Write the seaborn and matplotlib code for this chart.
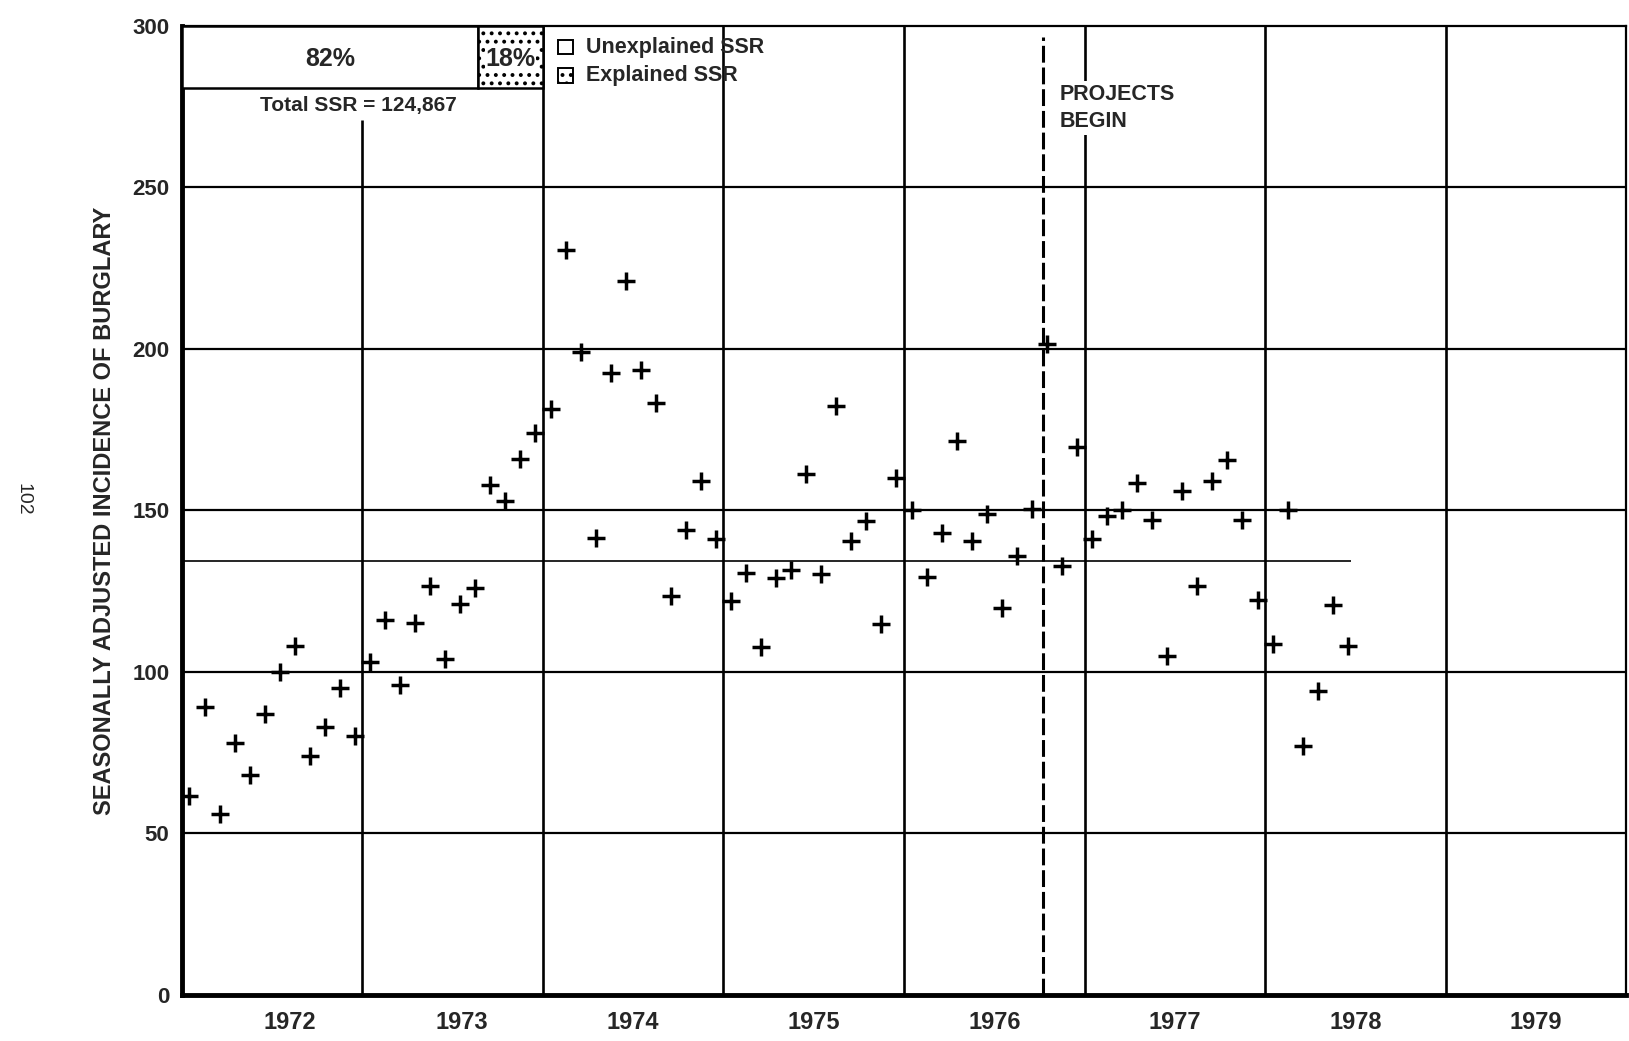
import numpy as np
import pandas as pd
import matplotlib
matplotlib.use("Agg")
import matplotlib.pyplot as plt
from matplotlib.patches import Rectangle
import seaborn as sns

# ---------------- data ----------------
YEARS = [1972, 1973, 1974, 1975, 1976, 1977, 1978]
BURG_1972 = [61.5, 89, 56, 78, 68, 87, 100, 108, 74, 83, 95, 80]
BURG_1973 = [103, 116, 96, 115, 126.5, 104, 121, 126, 158, 153, 166, 174]
BURG_1974 = [181.5, 230.5, 199, 141.5, 192.6, 221, 193.6, 183.3, 123.5, 144, 159, 141]
BURG_1975 = [122, 130.5, 107.8, 129, 131.5, 161.3, 130.4, 182.2, 140.5, 146.6, 114.8, 160]
BURG_1976 = [150, 129.5, 143, 171.4, 140.5, 149, 119.7, 136, 150.5, 201.6, 132.8, 169.5]
BURG_1977 = [141, 148.4, 150.2, 158.4, 147, 105, 156, 126.5, 159.2, 165.6, 147, 122.2]
BURG_1978 = [108.6, 150, 77, 94, 120.6, 108]
SERIES = [BURG_1972, BURG_1973, BURG_1974, BURG_1975, BURG_1976, BURG_1977, BURG_1978]

MEAN_LEVEL = 134.3
PROJECT_START = 1976.77          # October 1976
X_LABELS = ["1972", "1973", "1974", "1975", "1976", "1977", "1978", "1979"]
X_LABEL_POS = [1972.6, 1973.55, 1974.5, 1975.5, 1976.5, 1977.5, 1978.5, 1979.5]
Y_TICKS = [0, 50, 100, 150, 200, 250, 300]
UNEXPLAINED_PCT = 82
EXPLAINED_PCT = 18
TOTAL_SSR = "124,867"

rows = []
for yr, vals in zip(YEARS, SERIES):
    for m, v in enumerate(vals):
        rows.append({"date": yr + (m + 0.5) / 12.0, "burglary": v})
df = pd.DataFrame(rows)

# ---------------- style ----------------
sns.set_style("white")
FONT = ["Liberation Sans", "DejaVu Sans"]
plt.rcParams["font.family"] = FONT
plt.rcParams["hatch.linewidth"] = 1.6
plt.rcParams["hatch.color"] = "black"

fig = plt.figure(figsize=(16.29, 10.41), dpi=100)
ax = fig.add_axes([0.1117, 0.0445, 0.8865, 0.9305])
ax.set_xlim(1972, 1980)
ax.set_ylim(0, 300)

# grid lines
ax.hlines([50, 100, 150, 200, 250], 1972, 1980, colors="black", lw=1.6, zorder=1)
ax.hlines(MEAN_LEVEL, 1972, df["date"].iloc[-1] + 0.02, colors="black", lw=1.2, zorder=1)
ax.vlines(1973, 0, 271, colors="black", lw=1.9, zorder=1)
ax.vlines([1974, 1975, 1976, 1977, 1978, 1979], 0, 300, colors="black", lw=1.9, zorder=1)
ax.vlines(PROJECT_START, 0, 296.5, colors="black", lw=2.2,
          linestyles=[(0, (5.5, 1.6))], zorder=1)

# data points
sns.scatterplot(data=df, x="date", y="burglary", marker="+", s=155,
                color="black", linewidth=2.5, ax=ax, zorder=3, legend=False)

# SSR box
box_y, box_h = 280.7, 19.3
split = 1972 + 2 * UNEXPLAINED_PCT / 100
ax.add_patch(Rectangle((1972, box_y), split - 1972, box_h, facecolor="white",
                       edgecolor="black", lw=1.8, zorder=4))
ax.add_patch(Rectangle((split, box_y), 1974 - split, box_h, facecolor="white",
                       edgecolor="black", lw=1.8, hatch="..", zorder=4))
ax.text((1972 + split) / 2, 289.8, f"{UNEXPLAINED_PCT}%", ha="center", va="center",
        fontsize=18, fontweight="bold", zorder=5)
ax.text((split + 1974) / 2, 289.8, f"{EXPLAINED_PCT}%", ha="center", va="center",
        fontsize=18, fontweight="bold", zorder=5,
        bbox=dict(facecolor="white", edgecolor="none", pad=0.5))
ax.text(1972.98, 275.5, f"Total SSR = {TOTAL_SSR}", ha="center", va="center",
        fontsize=15, fontweight="bold", zorder=5)

# legend
ax.add_patch(Rectangle((1974.085, 291.2), 0.08, 4.6, facecolor="white",
                       edgecolor="black", lw=1.4, zorder=4))
ax.add_patch(Rectangle((1974.085, 282.5), 0.08, 4.6, facecolor="white",
                       edgecolor="black", lw=1.4, hatch="..", zorder=4))
ax.text(1974.24, 293.4, "Unexplained SSR", ha="left", va="center",
        fontsize=15.5, fontweight="bold", zorder=5)
ax.text(1974.24, 284.6, "Explained SSR", ha="left", va="center",
        fontsize=15.5, fontweight="bold", zorder=5)

# project annotation
ax.text(1976.86, 282.0, "PROJECTS\nBEGIN", ha="left", va="top", fontsize=15.5,
        fontweight="bold", linespacing=1.35, zorder=5,
        bbox=dict(facecolor="white", edgecolor="none", pad=2))

# axes, ticks
for side in ["left", "bottom"]:
    ax.spines[side].set_linewidth(3.5)
for side in ["top", "right"]:
    ax.spines[side].set_linewidth(1.6)
for s in ax.spines.values():
    s.set_color("black")

ax.set_xticks(X_LABEL_POS)
ax.set_xticklabels(X_LABELS)
ax.set_yticks(Y_TICKS)
ax.set_yticklabels([str(t) for t in Y_TICKS])
ax.tick_params(axis="x", length=0, pad=12, labelsize=17)
ax.tick_params(axis="y", length=0, pad=9, labelsize=16)
for lab in ax.get_xticklabels() + ax.get_yticklabels():
    lab.set_fontweight("bold")

ax.set_xlabel("")
ax.set_ylabel("SEASONALLY ADJUSTED INCIDENCE OF BURGLARY", fontsize=17,
              fontweight="bold")
ax.yaxis.set_label_coords(-0.046, 0.5)

fig.text(0.014, 0.52, "102", rotation=-90, ha="center", va="center", fontsize=14)

fig.savefig("out.png", dpi=100, facecolor="white")
